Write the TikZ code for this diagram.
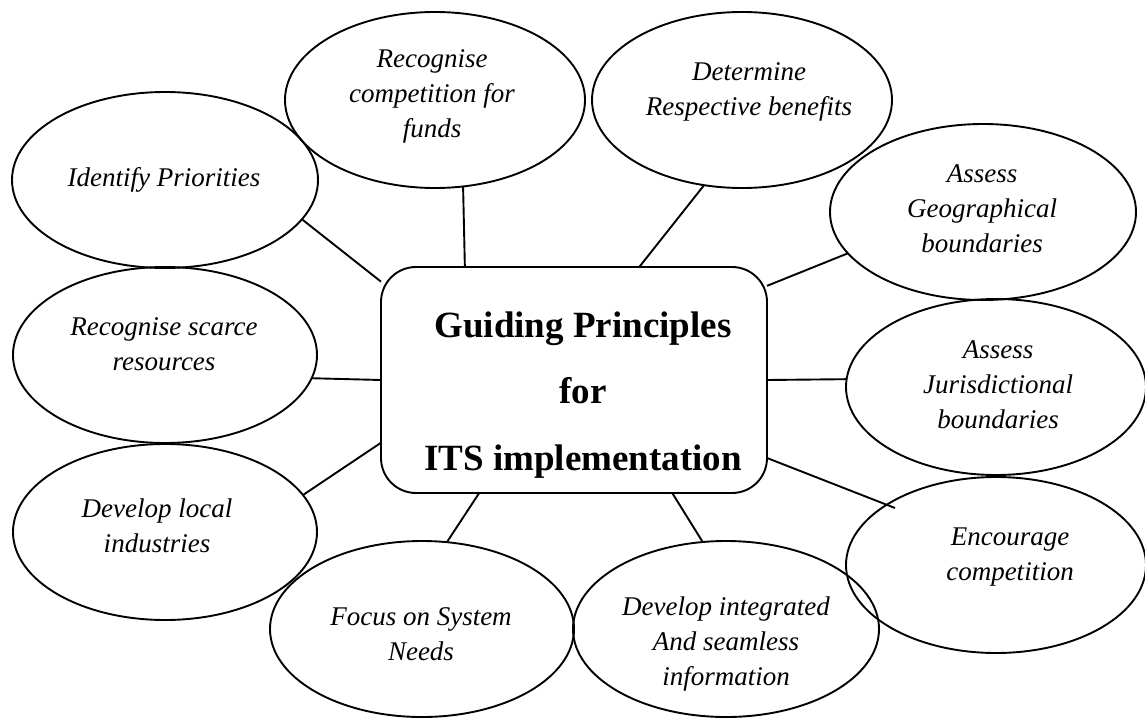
\documentclass[tikz,border=0pt]{standalone}
\usepackage{fontspec}
\setmainfont{Liberation Serif}
\usetikzlibrary{shapes.geometric}
\begin{document}
\begin{tikzpicture}[x=1pt,y=-1pt,
  bubble/.style={draw,ellipse,line width=1.9pt,minimum width=#1,minimum height=176pt,inner sep=0pt,outer sep=0pt},
  hubbox/.style={draw,rectangle,rounded corners=35pt,minimum width=386pt,minimum height=226pt,line width=1.9pt,inner sep=0pt,outer sep=0pt},
  lbl/.style={anchor=base,align=center,inner sep=0pt,font=\fontsize{27}{35}\selectfont\itshape},
  title/.style={anchor=base,align=center,inner sep=0pt,font=\fontsize{37}{66.5}\selectfont\bfseries},
  link/.style={line width=1.9pt}]
\useasboundingbox (0,0) rectangle (1145,717);
% ellipses
\node[bubble=306pt] (IP) at (165,180) {};
\node[bubble=300pt] (RC) at (435,100) {};
\node[bubble=300pt] (D)  at (742,100) {};
\node[bubble=306pt] (G)  at (983,212) {};
\node[bubble=304pt] (RS) at (165,355) {};
\node[bubble=300pt] (J)  at (996,387) {};
\node[bubble=304pt] (DL) at (165,532) {};
\node[bubble=304pt] (F)  at (422,629) {};
\node[bubble=306pt] (DI) at (726,629) {};
\node[bubble=300pt] (E)  at (996,565) {};
% central box
\node[hubbox] (hub) at (574,380) {};
% labels (anchored at the baseline of the last line)
\node[lbl] (tIP) at (164,186) {Identify Priorities};
\node[lbl] (tRC) at (432,137) {Recognise\\competition for\\funds};
\node[lbl] (tD)  at (749,115) {Determine\\Respective benefits};
\node[lbl] (tG)  at (982,252) {Assess\\Geographical\\boundaries};
\node[lbl] (tRS) at (164,370) {Recognise scarce\\resources};
\node[lbl] (tJ)  at (998,428) {Assess\\Jurisdictional\\boundaries};
\node[lbl] (tDL) at (157,552) {Develop local\\industries};
\node[lbl] (tF)  at (421,660) {Focus on System\\Needs};
\node[lbl] (tDI) at (726,685) {Develop integrated\\And seamless\\information};
\node[lbl] (tE)  at (1010,580) {Encourage\\competition};
\node[title] (tHub) at (583,470) {Guiding Principles\\for\\ITS implementation};
% connectors
\draw[link] (IP.-16.3) -- (hub.153.8);
\draw[link] (RC.-72.8) -- (hub.134.7);
\draw[link] (D.-114.1) -- (hub.60.1);
\draw[link] (G.-163.7) -- (hub.26.4);
\draw[link] (RS.-9.3) -- (hub.180);
\draw[link] (J.177.3) -- (hub.0);
\draw[link] (DL.15.9) -- (hub.198.6);
\draw[link] (F.74.7) -- (hub.-130.4);
\draw[link] (DI.105.3) -- (hub.-49.1);
\coordinate (Eend) at ([shift={(-101,-57)}]E.center);
\draw[link] (hub.-22.8) -- (Eend);
\end{tikzpicture}
\end{document}
